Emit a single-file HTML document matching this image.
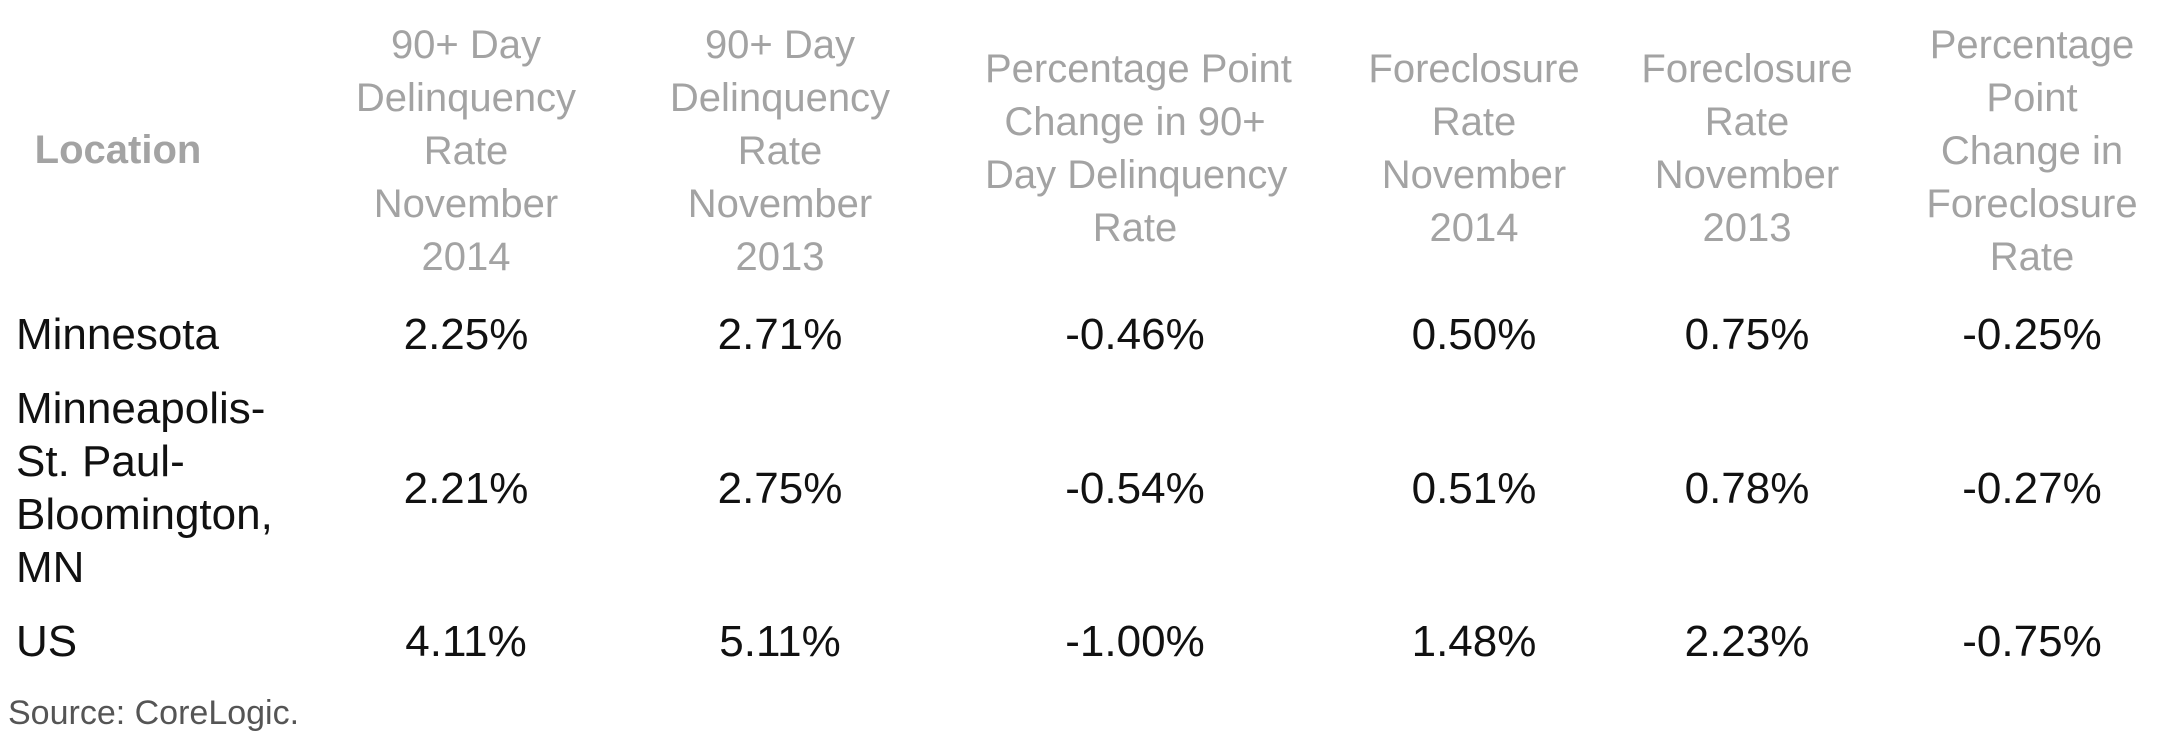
<!DOCTYPE html>
<html><head><meta charset="utf-8"><style>
html,body{margin:0;padding:0;background:#fff;}
body{width:2160px;height:747px;position:relative;overflow:hidden;font-family:"Liberation Sans",Arial,sans-serif;}
.h{position:absolute;color:#a3a3a3;font-size:40px;line-height:53px;text-align:center;width:300px;margin-left:-150px;white-space:nowrap;}
.d{position:absolute;color:#111;font-size:44px;line-height:53px;text-align:center;width:300px;margin-left:-150px;white-space:nowrap;}
.l{position:absolute;color:#111;font-size:44px;line-height:53px;left:16px;white-space:nowrap;}
</style></head><body>
<div class="h" style="left:118px;top:124px;font-weight:bold;">Location</div>
<div class="h" style="left:466px;top:19px;">90+ Day<br>Delinquency<br>Rate<br>November<br>2014</div>
<div class="h" style="left:780px;top:19px;">90+ Day<br>Delinquency<br>Rate<br>November<br>2013</div>
<div class="h" style="left:1135px;top:43px;">Percentage Point<br>Change in 90+<br>Day Delinquency<br>Rate</div>
<div class="h" style="left:1474px;top:43px;">Foreclosure<br>Rate<br>November<br>2014</div>
<div class="h" style="left:1747px;top:43px;">Foreclosure<br>Rate<br>November<br>2013</div>
<div class="h" style="left:2032px;top:19px;">Percentage<br>Point<br>Change in<br>Foreclosure<br>Rate</div>

<div class="l" style="top:308px;">Minnesota</div>
<div class="l" style="top:382px;">Minneapolis-<br>St. Paul-<br>Bloomington,<br>MN</div>
<div class="l" style="top:615px;">US</div>

<div class="d" style="left:466px;top:308px;">2.25%</div>
<div class="d" style="left:780px;top:308px;">2.71%</div>
<div class="d" style="left:1135px;top:308px;">-0.46%</div>
<div class="d" style="left:1474px;top:308px;">0.50%</div>
<div class="d" style="left:1747px;top:308px;">0.75%</div>
<div class="d" style="left:2032px;top:308px;">-0.25%</div>

<div class="d" style="left:466px;top:462px;">2.21%</div>
<div class="d" style="left:780px;top:462px;">2.75%</div>
<div class="d" style="left:1135px;top:462px;">-0.54%</div>
<div class="d" style="left:1474px;top:462px;">0.51%</div>
<div class="d" style="left:1747px;top:462px;">0.78%</div>
<div class="d" style="left:2032px;top:462px;">-0.27%</div>

<div class="d" style="left:466px;top:615px;">4.11%</div>
<div class="d" style="left:780px;top:615px;">5.11%</div>
<div class="d" style="left:1135px;top:615px;">-1.00%</div>
<div class="d" style="left:1474px;top:615px;">1.48%</div>
<div class="d" style="left:1747px;top:615px;">2.23%</div>
<div class="d" style="left:2032px;top:615px;">-0.75%</div>

<div style="position:absolute;left:8px;top:692px;font-size:34px;line-height:42px;color:#555;">Source: CoreLogic.</div>
</body></html>
